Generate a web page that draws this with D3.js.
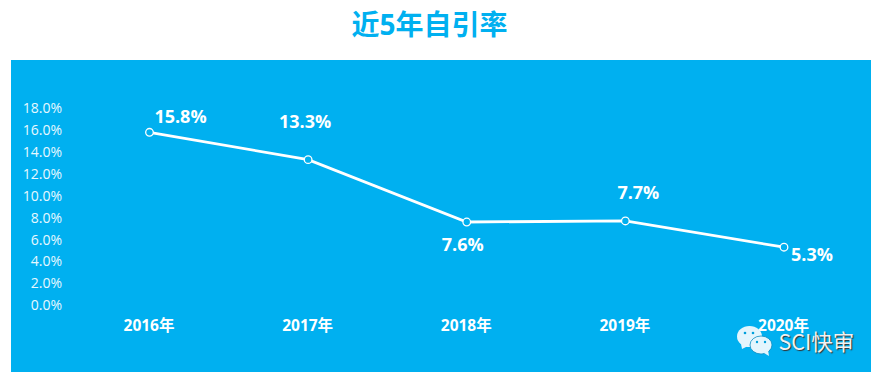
<!DOCTYPE html>
<meta charset="utf-8">
<style>
  html, body { margin: 0; padding: 0; background: #fff; }
  svg { display: block; }
  text { font-family: "Open Sans", "Noto Sans CJK SC", sans-serif; }
</style>
<script src="https://d3js.org/d3.v7.min.js"></script>
<svg id="chart" width="884" height="382"></svg>
<script>
    // Data
    var years = ["2016年", "2017年", "2018年", "2019年", "2020年"];
    var rates = [15.8, 13.3, 7.6, 7.7, 5.3];
    var yTicks = [0, 2, 4, 6, 8, 10, 12, 14, 16, 18];

    // label offsets from each point, in pixels
    var labelDx = [31, -3, -4, 13, 28];
    var labelDy = [-16, -38, 23, -28, 8];

    var blue = "#00b0f0";
    var svg = d3.select("#chart");

    // Title
    svg.append("text")
        .attr("x", 429.5).attr("y", 35)
        .attr("text-anchor", "middle")
        .attr("fill", blue)
        .style("font-size", "28px").style("font-weight", 700)
        .text("近5年自引率");

    // Panel
    svg.append("rect")
        .attr("x", 11).attr("y", 60)
        .attr("width", 860).attr("height", 312)
        .attr("fill", blue);

    // Scales
    var x = d3.scalePoint().domain(years).range([149.5, 784]);
    var y = d3.scaleLinear().domain([0, 18]).range([305.2, 108.2]);

    // Y axis
    var yAxis = svg.append("g")
        .attr("transform", "translate(62,0)")
        .call(d3.axisLeft(y).tickValues(yTicks).tickSize(0).tickPadding(0)
            .tickFormat(function(d){ return d.toFixed(1) + "%" }));
    yAxis.select(".domain").remove();
    yAxis.selectAll("text")
        .attr("fill", "#e8f8ff")
        .style("font-size", "14px");

    // X axis
    var xAxis = svg.append("g")
        .attr("transform", "translate(0,326)")
        .call(d3.axisBottom(x).tickSize(0).tickPadding(0));
    xAxis.select(".domain").remove();
    xAxis.selectAll("text")
        .attr("y", 0).attr("dy", "0.35em")
        .attr("dx", -1)
        .attr("fill", "#fff")
        .style("font-size", "15.5px").style("font-weight", 700);

    // Line
    var line = d3.line()
        .x(function(d, i){ return x(years[i]) })
        .y(function(d){ return y(d) });

    svg.append("path")
        .datum(rates)
        .attr("d", line)
        .attr("fill", "none")
        .attr("stroke", "#fff")
        .attr("stroke-width", 2.8);

    svg.selectAll(".dot")
        .data(rates)
        .enter()
        .append("circle")
          .attr("class", "dot")
          .attr("cx", function(d, i){ return x(years[i]) })
          .attr("cy", function(d){ return y(d) })
          .attr("r", 3.8)
          .attr("fill", blue)
          .attr("stroke", "#fff")
          .attr("stroke-width", 1.3);

    // Value labels
    svg.selectAll(".val")
        .data(rates)
        .enter()
        .append("text")
          .attr("class", "val")
          .attr("x", function(d, i){ return x(years[i]) + labelDx[i] })
          .attr("y", function(d, i){ return y(d) + labelDy[i] })
          .attr("dy", "0.35em")
          .attr("text-anchor", "middle")
          .attr("fill", "#fff")
          .style("font-size", "18px").style("font-weight", 700)
          .text(function(d){ return d.toFixed(1) + "%" });

    // Watermark
    var mark = svg.append("g");
    mark.append("ellipse").attr("cx", 749.5).attr("cy", 336.5).attr("rx", 12.5).attr("ry", 10.5).attr("fill", "#e3f5fd");
    mark.append("path").attr("d", "M741 344 L742 349 L748 346 Z").attr("fill", "#e3f5fd");
    mark.append("circle").attr("cx", 745).attr("cy", 333).attr("r", 1.3).attr("fill", "#00a0dc");
    mark.append("circle").attr("cx", 753).attr("cy", 333).attr("r", 1.3).attr("fill", "#00a0dc");
    mark.append("ellipse").attr("cx", 761).attr("cy", 345).attr("rx", 11).attr("ry", 9)
        .attr("fill", "#e3f5fd").attr("stroke", "#0a8cc0").attr("stroke-width", 0.8);
    mark.append("path").attr("d", "M764 353 L769 356 L768 350 Z").attr("fill", "#e3f5fd");
    mark.append("circle").attr("cx", 757).attr("cy", 342).attr("r", 1.2).attr("fill", "#00a0dc");
    mark.append("circle").attr("cx", 765).attr("cy", 342).attr("r", 1.2).attr("fill", "#00a0dc");
    mark.append("text")
        .attr("x", 778.5).attr("y", 350)
        .attr("fill", "#f2f2f2")
        .style("font-family", "'Noto Sans CJK SC', sans-serif")
        .style("font-size", "21.5px")
        .style("text-shadow", "1px 1px 1px #333")
        .text("SCI快审");
</script>
